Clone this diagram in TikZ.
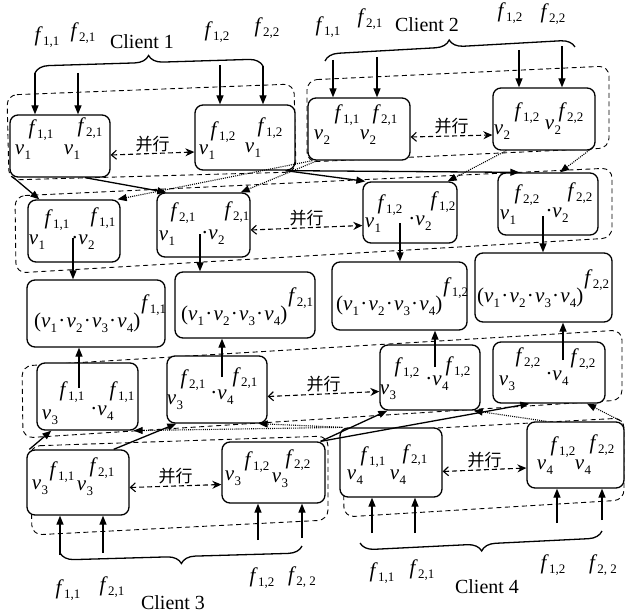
\documentclass[tikz,border=0pt]{standalone}
\usepackage{fontspec}
\setmainfont{Liberation Serif}
\newfontfamily\cjk{Noto Sans CJK SC}
\usetikzlibrary{arrows.meta,decorations.pathreplacing,calc}
\newcommand\ff[1]{\textit{f}\kern0.2pt\raisebox{-0.45ex}{\fontsize{13}{13}\selectfont #1}}
\newcommand\vv[1]{\textit{v}\kern0.2pt\raisebox{-0.55ex}{\fontsize{13}{13}\selectfont #1}}
\newcommand\dt{\kern1.2pt·\kern1.2pt}
\newcommand\pr[1]{(\vv{1}\dt\vv{2}\dt\vv{3}\dt\vv{4})\kern1pt\raisebox{18pt}{\ff{#1}}}
\newcounter{lc}
\newcommand\lab[2]{\stepcounter{lc}\node[labs] (lab\arabic{lc}) at (#1) {#2};}
\tikzset{
 box/.style={draw, fill=white, line width=1.3pt, rounded corners=8pt, inner sep=0pt},
 grp/.style={draw, line width=0.9pt, rounded corners=10pt, dash pattern=on 5pt off 3.5pt},
 arr/.style={-{Triangle[length=9pt,width=7pt]}, line width=1.3pt},
 darr/.style={dash pattern=on 1pt off 1.1pt, line width=1.1pt, -{Triangle[length=9pt,width=7pt]}},
 parr/.style={dash pattern=on 5pt off 3pt, line width=1.1pt, {Straight Barb[length=5pt,width=9pt]}-{Stealth[length=9pt,width=8pt]}},
 labs/.style={inner sep=0pt, font=\fontsize{21}{21}\selectfont},
 cn/.style={font=\cjk\fontsize{17}{17}\selectfont, inner sep=1pt, anchor=south},
 cl/.style={font=\fontsize{20}{20}\selectfont, inner sep=0pt},
 brc/.style={decorate, decoration={brace, amplitude=14pt}, line width=1.3pt},
}
\begin{document}
\begin{tikzpicture}[x=1pt,y=-1pt]
\useasboundingbox (0,0) rectangle (626,615);
% dashed groups
\draw[grp] (7,95) -- (294,84) -- (296,172) -- (9,180) -- cycle;
\draw[grp] (307,80) -- (609,66) -- (609,148) -- (307,162) -- cycle;
\draw[grp] (15,196) -- (612,168) -- (612,238) -- (16,273) -- cycle;
\draw[grp] (22,366) -- (622,330) -- (622,400) -- (23,438) -- cycle;
\draw[grp] (30,446) -- (328,436) -- (328,520) -- (32,535) -- cycle;
\draw[grp] (343,433) -- (624,418) -- (624,500) -- (344,517) -- cycle;
% boxes
\node[box, minimum width=100pt, minimum height=62pt] (C1a) at (60,146) {};
\node[box, minimum width=100pt, minimum height=65pt] (C1b) at (245,137.5) {};
\node[box, minimum width=102pt, minimum height=62pt] (C2a) at (359,129) {};
\node[box, minimum width=102pt, minimum height=62pt] (C2b) at (544,119) {};
\node[box, minimum width=92pt, minimum height=62pt] (B21) at (74,231) {};
\node[box, minimum width=93pt, minimum height=64pt] (B22) at (203.5,225) {};
\node[box, minimum width=94pt, minimum height=61pt] (B23) at (410,212.5) {};
\node[box, minimum width=100pt, minimum height=62pt] (B24) at (548,204) {};
\node[box, minimum width=138pt, minimum height=67pt] (B31) at (96,313.5) {};
\node[box, minimum width=140pt, minimum height=66pt] (B32) at (245,305) {};
\node[box, minimum width=135pt, minimum height=68pt] (B33) at (399.5,296) {};
\node[box, minimum width=137pt, minimum height=69pt] (B34) at (543.5,287.5) {};
\node[box, minimum width=101pt, minimum height=67pt] (B41) at (87.5,396.5) {};
\node[box, minimum width=100pt, minimum height=67pt] (B42) at (217,389.5) {};
\node[box, minimum width=100pt, minimum height=65pt] (B43) at (430,377.5) {};
\node[box, minimum width=112pt, minimum height=61pt] (B44) at (549,372.5) {};
\node[box, minimum width=102pt, minimum height=65pt] (C3a) at (78,482.5) {};
\node[box, minimum width=103pt, minimum height=61pt] (C3b) at (273.5,472.5) {};
\node[box, minimum width=102pt, minimum height=69pt] (C4a) at (391,462.5) {};
\node[box, minimum width=97pt, minimum height=66pt] (C4b) at (575.5,455) {};
% braces
\draw[brc] (35,73) -- (263,66);
\draw[brc] (325,61) -- (575,47);
\draw[brc] (302,546) -- (60,553);
\draw[brc] (602,531) -- (360,543);
% client labels
\lab{47,37}{\ff{1,1}} \lab{83,33}{\ff{2,1}} \node[cl] (cl1) at (142,42) {Client 1};
\lab{217,32}{\ff{1,2}} \lab{267,28}{\ff{2,2}}
\lab{328,27}{\ff{1,1}} \lab{370,19}{\ff{2,1}} \node[cl] (cl2) at (427,25) {Client 2};
\lab{510,13}{\ff{1,2}} \lab{553,14}{\ff{2,2}}
\lab{68,590}{\ff{1,1}} \lab{112,587}{\ff{2,1}} \node[cl] (cl3) at (173,603) {Client 3};
\lab{262,578}{\ff{1,2}} \lab{302,577}{\ff{2, 2}}
\lab{382,573}{\ff{1,1}} \lab{422,570}{\ff{2,1}} \node[cl] (cl4) at (487,587) {Client 4};
\lab{553,565}{\ff{1,2}} \lab{603,565}{\ff{2, 2}}
% client input arrows
\foreach \n/\x/\y/\b in {a1/35/73/C1a, a2/78/73/C1a, a3/220/65/C1b, a4/263/66/C1b,
  a5/333/60/C2a, a6/377/57/C2a, a7/519/50/C2b, a8/562/46/C2b}{
  \coordinate (\n) at (\x,\y);
  \draw[arr] (\n) -- (\n |- \b.north);
}
\foreach \n/\x/\y/\b in {a9/60/555/C3a, a10/103/553/C3a, a11/258/540/C3b, a12/302/538/C3b,
  a13/372/533/C4a, a14/415/533/C4a, a15/557/523/C4b, a16/602/520/C4b}{
  \coordinate (\n) at (\x,\y);
  \draw[arr] (\n) -- (\n |- \b.south);
}
% row1 -> row2
\draw[arr] ([xshift=3pt,yshift=1pt]C1a.south west) -- ([xshift=12pt]B21.north west);
\draw[arr] ([xshift=25pt]C1a.south) -- ([xshift=10pt]B22.north west);
\draw[arr] ([xshift=-10pt]C1b.south east) -- ([xshift=3pt]B23.north west);
\draw[arr] ([xshift=-10pt]C1b.south east) -- ([xshift=22pt]B24.north west);
\draw[darr] ([xshift=5pt]C2a.south west) -- ([xshift=-3pt]B21.north east);
\draw[darr] ([xshift=10pt]C2a.south west) -- ([xshift=-10pt]B22.north east);
\draw[darr] ([xshift=14pt]C2b.south west) -- ([xshift=-10pt]B23.north east);
\draw[darr] ([xshift=-3pt,yshift=3pt]C2b.south east) -- ([xshift=12pt]B24.north);
% row5 -> row4
\draw[arr] ([xshift=3pt]C3a.north west) -- ([xshift=15pt]B41.south west);
\draw[arr] ([xshift=-16pt]C3a.north east) -- ([xshift=10pt]B42.south west);
\draw[arr] ([xshift=-5pt]C3b.north east) -- ([xshift=8pt]B43.south west);
\draw[arr] ([xshift=-5pt]C3b.north east) -- ([xshift=37pt]B44.south west);
\draw[darr] ([xshift=3pt]C4a.north west) -- ([xshift=-5pt]B41.south east);
\draw[darr] ([xshift=3pt]C4a.north west) -- ([xshift=-9pt]B42.south east);
\draw[darr] ([xshift=20pt]C4b.north west) -- ([xshift=-7pt]B43.south east);
\draw[darr] ([xshift=-3pt]C4b.north east) -- ([xshift=38pt]B44.south);
% vertical arrows to row 3
\foreach \n/\x/\y/\b in {v1/73/238/B31, v2/200/234/B32, v3/400/223/B33, v4/543/216/B34}{
  \coordinate (\n) at (\x,\y);
  \draw[arr] (\n) -- (\n |- \b.north);
}
\foreach \n/\x/\y/\b in {u1/79/388/B31, u2/222/377/B32, u3/435/367/B33, u4/563/360/B34}{
  \coordinate (\n) at (\x,\y);
  \draw[arr] (\n) -- (\n |- \b.south);
}
% parallel arrows
\draw[parr] ([yshift=-9pt]C1a.east) -- node[cn] (p1) {并行} ([yshift=-14.5pt]C1b.west);
\draw[parr] ([yshift=-8pt]C2a.east) -- node[cn] (p2) {并行} ([yshift=-16pt]C2b.west);
\draw[parr] ([yshift=-5pt]B22.east) -- node[cn] (p3) {并行} ([yshift=-13pt]B23.west);
\draw[parr] ([yshift=-7pt]B42.east) -- node[cn] (p4) {并行} ([yshift=-14pt]B43.west);
\draw[parr] ([yshift=-5pt]C3a.east) -- node[cn] (p5) {并行} ([yshift=-12pt]C3b.west);
\draw[parr] ([yshift=-9pt]C4a.east) -- node[cn] (p6) {并行} ([yshift=-13pt]C4b.west);
% row 1 labels
\lab{41,130}{\ff{1,1}} \lab{90,128}{\ff{2,1}} \lab{23,152}{\vv{1}} \lab{72,152}{\vv{1}}
\lab{223,132}{\ff{1,2}} \lab{270,128}{\ff{1,2}} \lab{207,152}{\vv{1}} \lab{253,150}{\vv{1}}
\lab{347,115}{\ff{1,1}} \lab{385,115}{\ff{2,1}} \lab{322,137}{\vv{2}} \lab{368,137}{\vv{2}}
\lab{527,113}{\ff{1,2}} \lab{571,113}{\ff{2,2}} \lab{502,132}{\vv{2}} \lab{553,127}{\vv{2}}
% row 2 labels
\lab{57,220}{\ff{1,1}} \lab{103,218}{\ff{1,1}} \lab{37,242}{\vv{1}} \lab{83,242}{·\vv{2}}
\lab{183,213}{\ff{2,1}} \lab{237,212}{\ff{2,1}} \lab{167,238}{\vv{1}} \lab{213,237}{·\vv{2}}
\lab{390,205}{\ff{1,2}} \lab{443,202}{\ff{1,2}} \lab{373,225}{\vv{1}} \lab{420,223}{·\vv{2}}
\lab{527,195}{\ff{2,2}} \lab{580,193}{\ff{2,2}} \lab{508,217}{\vv{1}} \lab{557,215}{·\vv{2}}
% row 3 labels
\stepcounter{lc}\node[labs, anchor=base west] (lab\arabic{lc}) at (34,327) {\pr{1,1}};
\stepcounter{lc}\node[labs, anchor=base west] (lab\arabic{lc}) at (181,320) {\pr{2,1}};
\stepcounter{lc}\node[labs, anchor=base west] (lab\arabic{lc}) at (336,310) {\pr{1,2}};
\stepcounter{lc}\node[labs, anchor=base west] (lab\arabic{lc}) at (477,302) {\pr{2,2}};
% row 4 labels
\lab{72,392}{\ff{1,1}} \lab{122,392}{\ff{1,1}} \lab{50,417}{\vv{3}} \lab{102,413}{·\vv{4}}
\lab{193,380}{\ff{2,1}} \lab{245,378}{\ff{2,1}} \lab{175,402}{\vv{3}} \lab{222,397}{·\vv{4}}
\lab{407,368}{\ff{1,2}} \lab{458,367}{\ff{1,2}} \lab{388,392}{\vv{3}} \lab{437,383}{·\vv{4}}
\lab{528,358}{\ff{2,2}} \lab{583,359}{\ff{2,2}} \lab{507,383}{\vv{3}} \lab{557,378}{·\vv{4}}
% row 5 labels
\lab{62,472}{\ff{1,1}} \lab{102,468}{\ff{2,1}} \lab{40,487}{\vv{3}} \lab{85,488}{\vv{3}}
\lab{257,462}{\ff{1,2}} \lab{298,460}{\ff{2,2}} \lab{233,478}{\vv{3}} \lab{280,480}{\vv{3}}
\lab{373,457}{\ff{1,1}} \lab{415,455}{\ff{2,1}} \lab{355,477}{\vv{4}} \lab{398,477}{\vv{4}}
\lab{563,447}{\ff{1,2}} \lab{602,445}{\ff{2,2}} \lab{545,467}{\vv{4}} \lab{583,467}{\vv{4}}
\end{tikzpicture}
\end{document}
